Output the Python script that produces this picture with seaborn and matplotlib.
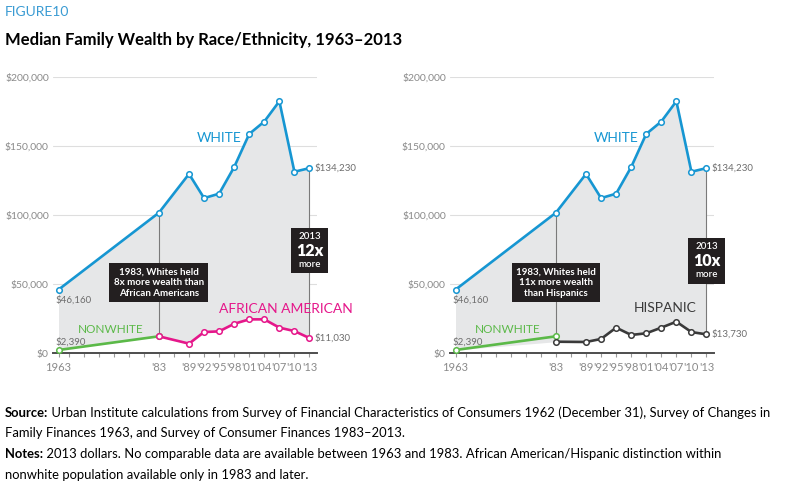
import matplotlib
matplotlib.use("Agg")
import matplotlib.pyplot as plt
from matplotlib.offsetbox import TextArea, VPacker, AnnotationBbox
from matplotlib.ticker import FuncFormatter
import seaborn as sns

sns.set_theme(style="white")
plt.rcParams['font.family'] = ['Lato', 'DejaVu Sans']

# data (2013 dollars)
years_white = [1963, 1983, 1989, 1992, 1995, 1998, 2001, 2004, 2007, 2010, 2013]
white = [46160, 101900, 130000, 112500, 115700, 135000, 159000, 168000, 182700, 131600, 134230]
years_nonwhite = [1963, 1983]
nonwhite = [2390, 12300]
years_minority = [1983, 1989, 1992, 1995, 1998, 2001, 2004, 2007, 2010, 2013]
african_american = [12300, 7000, 15400, 15900, 21400, 24600, 24600, 18600, 16100, 11030]
hispanic = [8400, 8200, 10400, 18600, 13300, 14500, 18600, 22900, 15400, 13730]

tick_years = [1963, 1983, 1989, 1992, 1995, 1998, 2001, 2004, 2007, 2010, 2013]
tick_labels = ["1963", "'83", "'89", "'92", "'95", "'98", "'01", "'04", "'07", "'10", "'13"]
y_ticks = [0, 50000, 100000, 150000, 200000]

BLUE = '#1696d2'
MAGENTA = '#e5178a'
GREEN = '#5bb948'
DARK = '#3a3a3a'
FILL = '#e6e7e8'
BOX = '#231f20'
TXT = '#6d6d6d'


def line(ax, x, y, color):
    sns.lineplot(x=x, y=y, ax=ax, color=color, linewidth=1.9, marker='o', markersize=4,
                 markerfacecolor='white', markeredgecolor=color, markeredgewidth=1.1,
                 clip_on=False, zorder=4)


def draw_panel(ax, minority, m_color, m_name, m_name_pos, ratio_1983, ratio_2013, box2013_y):
    lower = [nonwhite[0]] + minority
    ax.fill_between(years_white, white, lower, color=FILL, linewidth=0, zorder=1)

    # vertical reference lines at 1983 and 2013
    ax.plot([years_white[1]] * 2, [white[1], nonwhite[1]], color='#7a7a7a', lw=0.8, zorder=2)
    ax.plot([years_white[-1]] * 2, [white[-1], minority[-1]], color='#7a7a7a', lw=0.8, zorder=2)

    line(ax, years_white, white, BLUE)
    line(ax, years_nonwhite, nonwhite, GREEN)
    line(ax, years_minority, minority, m_color)

    ax.set_xlim(1961.9, 2014.5)
    ax.set_ylim(0, 200500)
    ax.set_xticks(tick_years)
    ax.set_xticklabels(tick_labels)
    ax.set_xticks(list(range(1965, 2014, 3)), minor=True)
    ax.set_yticks(y_ticks)
    ax.yaxis.set_major_formatter(FuncFormatter(lambda v, p: f"${v:,.0f}"))
    ax.grid(axis='y', color='#dedede', lw=0.8)
    ax.set_axisbelow(True)
    for s in ['top', 'right', 'left']:
        ax.spines[s].set_visible(False)
    ax.spines['bottom'].set_color('#4d4d4d')
    ax.spines['bottom'].set_linewidth(1.4)
    ax.spines['bottom'].set_zorder(3)
    ax.tick_params(axis='x', which='both', direction='out', length=3, width=0.8,
                   color='#9a9a9a', bottom=True, labelsize=8, labelcolor='#8a8a8a', pad=3)
    ax.tick_params(axis='y', length=0, labelsize=7.5, labelcolor='#8a8a8a', pad=3)

    # series names
    ax.text(1995, 155900, "WHITE", color=BLUE, fontsize=10, ha='center', va='center')
    ax.text(1973.3, 17000, "NONWHITE", color=GREEN, fontsize=8.5, ha='center', va='center')
    ax.text(m_name_pos[0], m_name_pos[1], m_name, color=m_color, fontsize=10,
            ha='center', va='center')

    # value labels
    ax.text(1962.4, 38500, f"${white[0]:,}", color=TXT, fontsize=7, ha='left', va='center')
    ax.text(1962.4, 7900, f"${nonwhite[0]:,}", color=TXT, fontsize=7, ha='left', va='center')
    ax.text(2013.9, white[-1], f"${white[-1]:,}", color=TXT, fontsize=7, ha='left', va='center')
    ax.text(2013.9, minority[-1], f"${minority[-1]:,}", color=TXT, fontsize=7, ha='left', va='center')

    # call-out boxes
    ax.text(1983, 51300, ratio_1983, color='white', fontsize=7, fontweight='bold',
            ha='center', va='center', multialignment='center', linespacing=1.25, zorder=6,
            bbox=dict(boxstyle='square,pad=0.45', fc=BOX, ec='none'))
    pack = VPacker(children=[
        TextArea("2013", textprops=dict(color='white', fontsize=7, fontweight='semibold')),
        TextArea(ratio_2013, textprops=dict(color='white', fontsize=11.5, fontweight='heavy')),
        TextArea("more", textprops=dict(color='white', fontsize=7, fontweight='semibold')),
    ], align='center', pad=0, sep=1)
    ab = AnnotationBbox(pack, (2013, box2013_y), frameon=True, pad=0.35, zorder=6,
                        bboxprops=dict(boxstyle='square', fc=BOX, ec='none'))
    ax.add_artist(ab)


fig = plt.figure(figsize=(7.85, 4.86), dpi=100)
W, H = 785, 486
ax1 = fig.add_axes([53 / W, 1 - 353.3 / H, 264 / W, 276.6 / H])
ax2 = fig.add_axes([450 / W, 1 - 353.3 / H, 264 / W, 276.6 / H])

draw_panel(ax1, african_american, MAGENTA, "AFRICAN AMERICAN", (2008.3, 31800),
           "1983, Whites held\n8x more wealth than\nAfrican Americans", "12x", 74500)
draw_panel(ax2, hispanic, DARK, "HISPANIC", (2004.7, 32500),
           "1983, Whites held\n11x more wealth\nthan Hispanics", "10x", 67000)

fig.text(5 / W, 1 - 12 / H, "FIGURE10", color='#3a9bd3', fontsize=10, va='center', ha='left')
fig.text(5 / W, 1 - 40 / H, "Median Family Wealth by Race/Ethnicity, 1963\u20132013",
         color='black', fontsize=12, fontweight='bold', va='center', ha='left')

# footer
foot = 9.4
src = fig.text(5 / W, 1 - 413 / H, "Source:", fontsize=foot, fontweight='bold', color='black',
               va='center', ha='left')
ax1.annotate(" Urban Institute calculations from Survey of Financial Characteristics of Consumers 1962 "
             "(December 31), Survey of Changes in", xy=(1, 0), xycoords=src, va='bottom', ha='left',
             fontsize=foot, color='black', annotation_clip=False)
fig.text(5 / W, 1 - 433 / H, "Family Finances 1963, and Survey of Consumer Finances 1983\u20132013.",
         fontsize=foot, color='black', va='center', ha='left')
notes = fig.text(5 / W, 1 - 454 / H, "Notes:", fontsize=foot, fontweight='bold', color='black',
                 va='center', ha='left')
ax1.annotate(" 2013 dollars. No comparable data are available between 1963 and 1983. "
             "African American/Hispanic distinction within", xy=(1, 0), xycoords=notes,
             va='bottom', ha='left', fontsize=foot, color='black', annotation_clip=False)
fig.text(5 / W, 1 - 475 / H, "nonwhite population available only in 1983 and later.",
         fontsize=foot, color='black', va='center', ha='left')

fig.savefig('out.png', dpi=100, facecolor='white')
